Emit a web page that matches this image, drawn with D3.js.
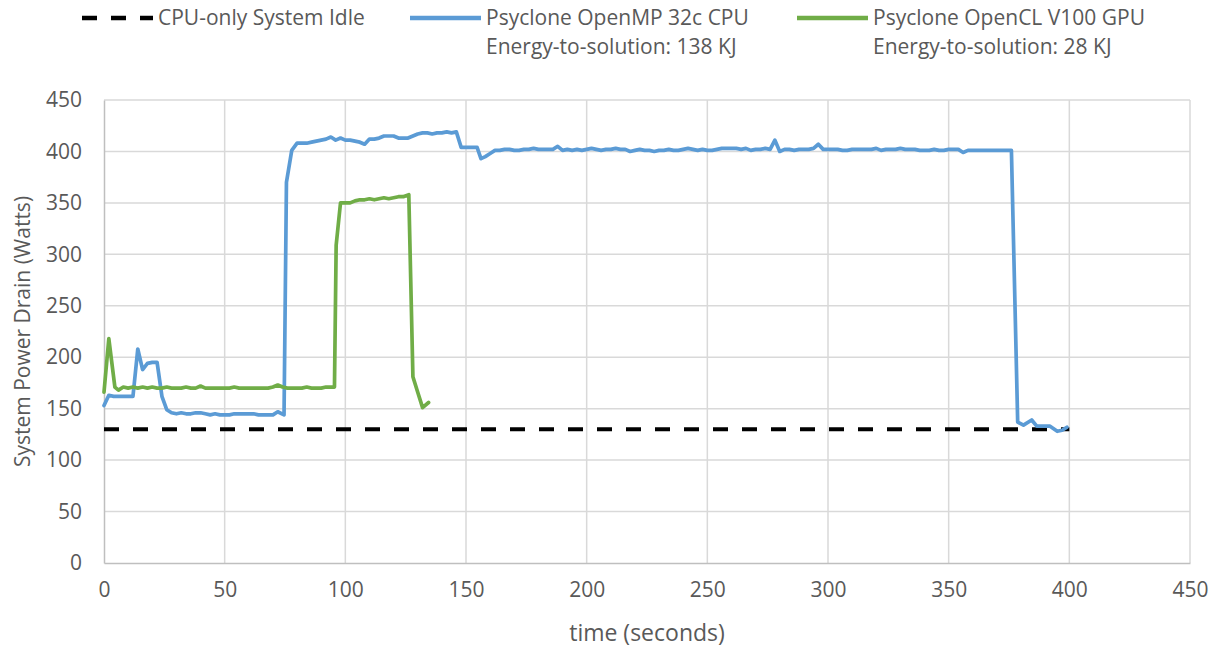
<!DOCTYPE html>
<html>
<head>
<meta charset="utf-8">
<script src="https://cdn.jsdelivr.net/npm/d3@7"></script>
<style>
  body { margin: 0; background: #fff; }
  text { font-family: 'Open Sans', sans-serif; fill: #595959; }
</style>
</head>
<body>
<script>
// readings: [time (s), watts]
const cpuReadings = [
  [0,153],[2,163],[4,162],[6,162],[8,162],[10,162],[12,162],[14,208],[16,188],[18,194],
  [20,195],[22,195],[24,162],[26,149],[28,146],[30,145],[32,146],[34,145],[36,145],[38,146],
  [40,146],[42,145],[44,144],[46,145],[48,144],[50,144],[52,144],[54,145],[56,145],[58,145],
  [60,145],[62,145],[64,144],[66,144],[68,144],[70,144],[72,147],[74.6,144],[75.6,370],[77.8,401],
  [80,408],[82,408],[84,408],[86,409],[88,410],[90,411],[92,412],[94,414],[96,411],[98,413],
  [100,411],[102,411],[104,410],[106,409],[108,407],[110,412],[112,412],[114,413],[116,415],[118,415],
  [120,415],[122,413],[124,413],[126,413],[128,415],[130,417],[132,418],[134,418],[136,417],[138,418],
  [140,418],[142,419],[144,418],[146,419],[148,404],[150,404],[152,404],[154.6,404],[156.2,393],[158,395],
  [160,398],[162,401],[164,401],[166,402],[168,402],[170,401],[172,401],[174,402],[176,402],[178,403],
  [180,402],[182,402],[184,402],[186,402],[188,405],[190,401],[192,402],[194,401],[196,402],[198,401],
  [200,402],[202,403],[204,402],[206,401],[208,402],[210,402],[212,403],[214,402],[216,402],[218,400],
  [220,401],[222,402],[224,401],[226,401],[228,400],[230,401],[232,401],[234,402],[236,401],[238,401],
  [240,402],[242,403],[244,402],[246,401],[248,402],[250,401],[252,401],[254,402],[256,403],[258,403],
  [260,403],[262,403],[264,402],[266,403],[268,401],[270,402],[272,402],[274,403],[276,402],[278,411],
  [280,400],[282,402],[284,402],[286,401],[288,402],[290,402],[292,402],[294,403],[296,407],[298,402],
  [300,402],[302,402],[304,402],[306,401],[308,401],[310,402],[312,402],[314,402],[316,402],[318,402],
  [320,403],[322,401],[324,402],[326,402],[328,402],[330,403],[332,402],[334,402],[336,402],[338,401],
  [340,401],[342,401],[344,402],[346,401],[348,401],[350,402],[352,402],[354,402],[356,399],[358,401],
  [360,401],[362,401],[364,401],[366,401],[368,401],[370,401],[372,401],[374,401],[376,401],[378.6,137],
  [381,134],[384.4,139],[386.5,133],[389,133],[392,133],[395,128],[397,129],[399,132]
]

const gpuReadings = [
  [0,166],[2,218],[4.5,171],[6,168],[8,171],[10,170],[12,171],[14,170],[16,171],[18,170],
  [20,171],[22,170],[24,170],[26,171],[28,170],[30,170],[32,170],[34,171],[36,170],[38,170],
  [40,172],[42,170],[44,170],[46,170],[48,170],[50,170],[52,170],[54,171],[56,170],[58,170],
  [60,170],[62,170],[64,170],[66,170],[68,170],[70,171],[72,173],[74,171],[76,170],[78,170],
  [80,170],[82,170],[84,171],[86,170],[88,170],[90,170],[92,171],[94,171],[95.5,171],[96.2,309],
  [98,350],[100,350],[102,350],[104,352],[106,353],[108,353],[110,354],[112,353],[114,354],[116,355],
  [118,354],[120,355],[122,356],[124,356],[126.3,358],[128,181],[130,166],[132,151],[134.5,156]
]

const idleReadings = [[0,130],[400,130]]

const xTicks = [0,50,100,150,200,250,300,350,400,450]
const yTicks = [0,50,100,150,200,250,300,350,400,450]

const legendItems = [
  {label: ['CPU-only System Idle'], color: '#000', dash: '15,14'},
  {label: ['Psyclone OpenMP 32c CPU', 'Energy-to-solution: 138 KJ'], color: '#5b9bd5', dash: null},
  {label: ['Psyclone OpenCL V100 GPU', 'Energy-to-solution: 28 KJ'], color: '#70ad47', dash: null}
]

let width = 1213
let height = 647
let margin = {top: 100, right: 23, bottom: 84, left: 104}

let svg = d3.select('body').append('svg').attr('width', width).attr('height', height)

let xScale = d3.scaleLinear().domain([0, 450]).range([margin.left, width - margin.right])
let yScale = d3.scaleLinear().domain([0, 450]).range([height - margin.bottom, margin.top])

// grid
svg.append('g')
   .selectAll('line')
   .data(yTicks.slice(1))
   .enter()
   .append('line')
   .attr('x1', xScale(0)).attr('x2', xScale(450))
   .attr('y1', d => yScale(d)).attr('y2', d => yScale(d))
   .attr('stroke', '#d9d9d9').attr('stroke-width', 1.5)

svg.append('g')
   .selectAll('line')
   .data(xTicks.slice(1))
   .enter()
   .append('line')
   .attr('x1', d => xScale(d)).attr('x2', d => xScale(d))
   .attr('y1', yScale(0)).attr('y2', yScale(450))
   .attr('stroke', '#d9d9d9').attr('stroke-width', 1.5)

// axes
let xAxis = d3.axisBottom(xScale).tickValues(xTicks).tickSize(0).tickPadding(19)
let yAxis = d3.axisLeft(yScale).tickValues(yTicks).tickSize(0).tickPadding(22)

let gx = svg.append('g')
   .attr('transform', 'translate(0,' + yScale(0) + ')')
   .call(xAxis)
gx.select('.domain').attr('stroke', '#bfbfbf').attr('stroke-width', 1.5)

let gy = svg.append('g')
   .attr('transform', 'translate(' + xScale(0) + ',0)')
   .call(yAxis)
gy.select('.domain').attr('stroke', '#bfbfbf').attr('stroke-width', 1.5)

svg.selectAll('.tick text')
   .style('font-family', "'Open Sans', sans-serif")
   .style('font-size', '21px')
   .attr('fill', '#595959')

// axis titles
svg.append('text')
   .attr('x', (xScale(0) + xScale(450)) / 2)
   .attr('y', 641)
   .attr('text-anchor', 'middle')
   .style('font-size', '23px')
   .text('time (seconds)')

svg.append('text')
   .attr('transform', 'translate(30,' + ((yScale(0) + yScale(450)) / 2) + ') rotate(-90)')
   .attr('text-anchor', 'middle')
   .style('font-size', '21px')
   .text('System Power Drain (Watts)')

// lines
let line = d3.line().x(d => xScale(d[0])).y(d => yScale(d[1]))

svg.append('path')
   .datum(idleReadings)
   .attr('d', line)
   .attr('fill', 'none')
   .attr('stroke', '#000')
   .attr('stroke-width', 4)
   .attr('stroke-dasharray', '15,14')

svg.append('path')
   .datum(cpuReadings)
   .attr('d', line)
   .attr('fill', 'none')
   .attr('stroke', '#5b9bd5')
   .attr('stroke-width', 3.7)
   .attr('stroke-linejoin', 'round')
   .attr('stroke-linecap', 'round')

svg.append('path')
   .datum(gpuReadings)
   .attr('d', line)
   .attr('fill', 'none')
   .attr('stroke', '#70ad47')
   .attr('stroke-width', 3.7)
   .attr('stroke-linejoin', 'round')
   .attr('stroke-linecap', 'round')

// legend
let legendX = [82, 410, 797]
let legend = svg.append('g')
legendItems.forEach((item, i) => {
  let g = legend.append('g').attr('transform', 'translate(' + legendX[i] + ',18)')
  g.append('line')
   .attr('x1', 0).attr('x2', 71)
   .attr('y1', 0).attr('y2', 0)
   .attr('stroke', item.color)
   .attr('stroke-width', 4.5)
   .attr('stroke-dasharray', item.dash)
  item.label.forEach((t, j) => {
    g.append('text')
     .attr('x', 76)
     .attr('y', j * 29 + 7)
     .style('font-size', '21px')
     .text(t)
  })
})
</script>
</body>
</html>
